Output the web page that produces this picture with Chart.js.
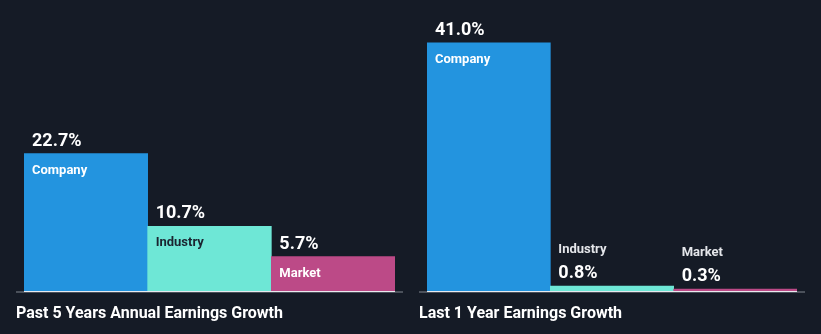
<!DOCTYPE html>
<html>
<head>
<meta charset="utf-8">
<script src="https://cdn.jsdelivr.net/npm/chart.js@4/dist/chart.umd.min.js"></script>
<style>
  html, body { margin: 0; padding: 0; background: #151b26; }
  #wrap { position: relative; width: 821px; height: 334px; overflow: hidden; }
  canvas { position: absolute; top: 0; }
</style>
</head>
<body>
<div id="wrap">
  <canvas id="past5" width="410" height="334" style="left:0"></canvas>
  <canvas id="last1" width="411" height="334" style="left:410px"></canvas>
</div>
<script>
const groups = ['Company', 'Industry', 'Market'];
const past5Years = [22.7, 10.7, 5.7];
const last1Year = [41.0, 0.8, 0.3];
const panelTitles = ['Past 5 Years Annual Earnings Growth', 'Last 1 Year Earnings Growth'];

const barColors = ['#2394df', '#6ee7d6', '#bc4a87'];
const nameColors = ['#ffffff', '#1b2430', '#ffffff'];
const FONT = 'Roboto, "Noto Sans", sans-serif';

// baseline, value/name labels and the caption under each panel
const panelDecor = {
  id: 'panelDecor',
  afterDatasetsDraw(chart, args, opts) {
    const { ctx, chartArea } = chart;
    const meta = chart.getDatasetMeta(0);
    const base = chartArea.bottom;

    ctx.save();
    ctx.fillStyle = '#4b515b';
    ctx.fillRect(chartArea.left - 8, base, chartArea.right - chartArea.left + 16, 2);
    ctx.fillStyle = '#e8eaee';
    ctx.fillRect(chartArea.left, base, chartArea.right - chartArea.left, 1);

    ctx.textAlign = 'left';
    ctx.textBaseline = 'alphabetic';
    meta.data.forEach((bar, i) => {
      const value = chart.data.datasets[0].data[i];
      const left = bar.x - bar.width / 2 + 8;
      const h = base - bar.y;
      const valueText = value.toFixed(1) + '%';
      ctx.fillStyle = '#ffffff';
      ctx.font = 'bold 18px ' + FONT;
      ctx.fillText(valueText, left, bar.y - 8);
      ctx.font = 'bold 13px ' + FONT;
      if (h > 25) {
        // tall bar: name sits inside the bar
        ctx.fillStyle = nameColors[i];
        ctx.fillText(groups[i], left, bar.y + 20);
      } else {
        // short bar: name stacked above the value
        ctx.fillStyle = '#e4e6ea';
        ctx.fillText(groups[i], left, bar.y - 33);
      }
    });

    ctx.fillStyle = '#ffffff';
    ctx.font = 'bold 16px ' + FONT;
    ctx.fillText(opts.caption, chartArea.left - 8, 318);
    ctx.restore();
  }
};

function makePanel(id, values, caption, padLeft, padRight) {
  return new Chart(document.getElementById(id), {
    type: 'bar',
    data: {
      labels: groups,
      datasets: [{
        data: values,
        backgroundColor: barColors,
        borderWidth: 0,
        barPercentage: 1,
        categoryPercentage: 1
      }]
    },
    options: {
      responsive: false,
      animation: false,
      devicePixelRatio: 1,
      layout: { padding: { left: padLeft, right: padRight, top: 0, bottom: 43 } },
      scales: {
        x: { display: false },
        y: { display: false, min: 0, max: 48.1 }
      },
      plugins: {
        legend: { display: false },
        tooltip: { enabled: false },
        panelDecor: { caption: caption }
      }
    },
    plugins: [panelDecor]
  });
}

document.fonts.load('bold 16px Roboto').finally(() => {
  makePanel('past5', past5Years, panelTitles[0], 24, 15);
  makePanel('last1', last1Year, panelTitles[1], 17, 24);
});
</script>
</body>
</html>
